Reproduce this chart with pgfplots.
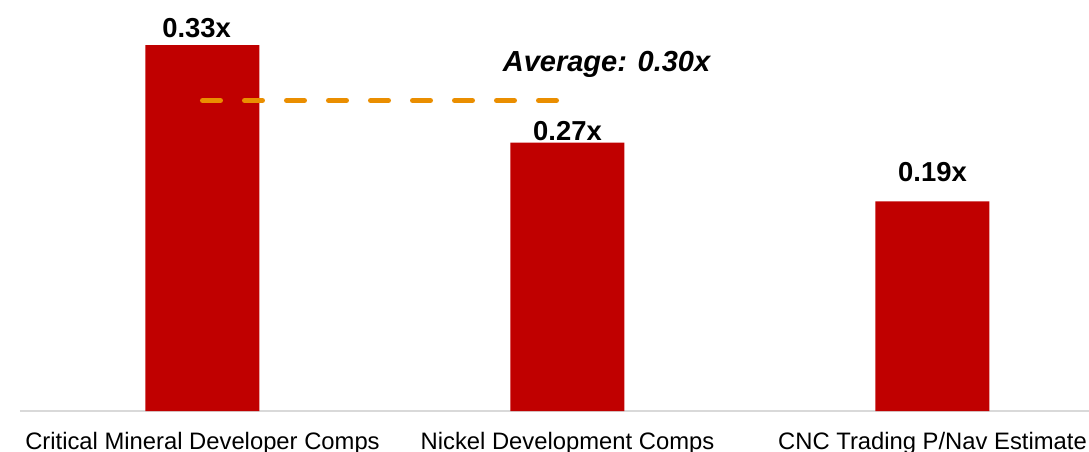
\documentclass[border=0pt]{standalone}
\usepackage{pgfplots}
\pgfplotsset{compat=1.18}
\usepackage{pgfplotstable}
\usepackage{fontspec}
\setmainfont{Liberation Sans}
\definecolor{barred}{RGB}{192,0,0}
\definecolor{avgorange}{RGB}{234,142,0}
\definecolor{axgray}{RGB}{217,217,217}

\pgfplotstableread{
x y
0 0.330
1 0.242
2 0.189
}\bars
\pgfplotstableread{
x ly label
-0.016 0.3372 0.33x
1 0.2435 0.27x
2 0.2065 0.19x
}\labels

\begin{document}
\begin{tikzpicture}
\begin{axis}[
  at={(0pt,0pt)}, anchor=south west,
  scale only axis,
  width=1069pt, height=411pt,
  xmin=-0.5, xmax=2.4288,
  ymin=0, ymax=0.3706,
  clip=false,
  axis y line=none,
  axis x line*=bottom,
  x axis line style={draw=axgray, line width=1.5pt, -},
  xtick={0,1,2},
  xticklabels={Critical Mineral Developer Comps, Nickel Development Comps, CNC Trading P/Nav Estimate},
  major tick length=0pt,
  xticklabel style={anchor=base, yshift=-38pt, font=\fontsize{23.8}{28}\selectfont, text=black},
]
\addplot[ybar, bar width=114pt, fill=barred, draw=none] table[x=x, y=y] {\bars};
\addplot[only marks, mark=none, nodes near coords, point meta=explicit symbolic,
  every node near coord/.style={anchor=base, inner sep=0pt, font=\fontsize{27.4}{32}\selectfont\bfseries, text=black}]
  table[x=x, y=ly, meta=label] {\labels};
\addplot[avgorange, line width=5pt, line cap=round, dash pattern=on 18pt off 24pt] coordinates {(0,0.28) (0.971,0.28)};
\node[anchor=base, inner sep=0pt, font=\fontsize{29}{34}\selectfont\bfseries\itshape] at (axis cs:1.107,0.3057) {Average: 0.30x};
\end{axis}
\pgfresetboundingbox
\path[use as bounding box] (-20pt,-41pt) rectangle (1069pt,411pt);
\end{tikzpicture}
\end{document}
